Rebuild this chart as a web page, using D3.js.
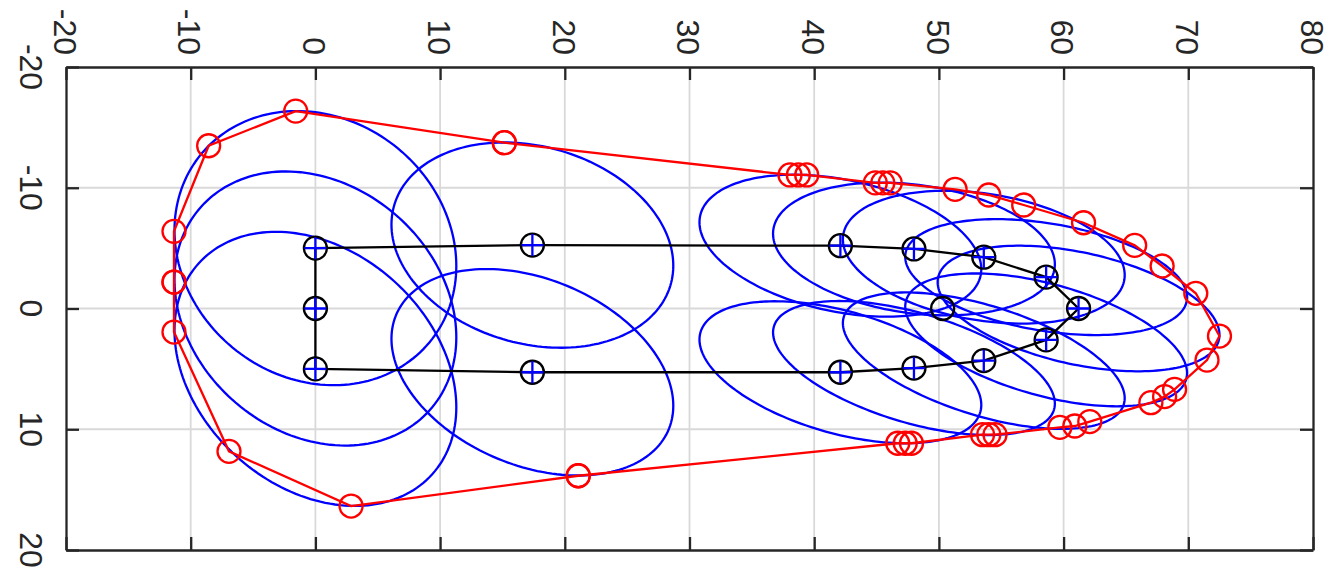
<!DOCTYPE html>
<html>
<head>
<meta charset="utf-8">
<script src="https://cdn.jsdelivr.net/npm/d3@7"></script>
<style>
  body { margin: 0; background: #fff; }
  svg { display: block; }
  .tick-label { font-family: "Liberation Sans", Arial, Helvetica, sans-serif; font-size: 32px; fill: #262626; }
</style>
</head>
<body>
<div class="plot-container"></div>
<script>
"use strict";

// ticks
const xTicks = [-20, -10, 0, 10, 20, 30, 40, 50, 60, 70, 80];
const yTicks = [-20, -10, 0, 10, 20];

// trajectory (closed loop), every node gets a blue plus
const pathX = [0, 0, 0, 17.4, 42.1, 48.0, 53.6, 58.6, 61.2, 58.6, 53.6, 48.0, 42.1, 17.4, 0];
const pathY = [5, 0, -5, -5.25, -5.2, -4.93, -4.25, -2.6, 0, 2.6, 4.32, 4.93, 5.28, 5.28, 5];

// lone black marker
const markX = [50.3];
const markY = [0];

// blue ellipses: centre, half extents, correlation
const ellCx = [0, 0, 0, 17.4, 17.4, 42.1, 42.1, 48.0, 48.0, 53.6, 53.6, 58.6, 58.6, 61.2];
const ellCy = [-5, 0, 5, -5.25, 5.28, -5.2, 5.28, -4.93, 4.93, -4.25, 4.32, -2.6, 2.6, 0];
const ellSx = [11.3, 11.3, 11.3, 11.3, 11.3, 11.3, 11.3, 11.3, 11.3, 11.3, 11.3, 11.3, 11.3, 11.3];
const ellSy = [11.35, 11.35, 11.35, 8.5, 8.55, 5.88, 5.88, 5.5, 5.55, 5.5, 5.65, 4.8, 5.5, 5.2];
const ellRho = [0.13, 0.21, 0.28, 0.2, 0.325, 0.33, 0.46, 0.23, 0.53, 0.27, 0.55, 0.35, 0.5, 0.42];

// red hull points, in drawing order
const hullX = [-1.58, 15.15, 15.15, 38.06, 38.73, 39.4, 44.9, 45.5, 46.1, 51.3, 54.0, 56.8, 61.6, 65.7, 67.9, 70.6,
  72.5, 71.5, 68.9, 68.1, 67.0, 62.1, 60.9, 59.7, 54.5, 54.0, 53.5, 47.8, 47.3, 46.7, 21.08, 21.08, 2.86,
  -6.93, -11.34, -11.34, -11.34, -11.34, -8.56, -1.58];
const hullY = [-16.35, -13.73, -13.73, -11.06, -11.06, -11.06, -10.4, -10.4, -10.4, -9.87, -9.4, -8.57, -7.1, -5.23, -3.52, -1.26,
  2.28, 4.27, 6.7, 7.3, 7.8, 9.37, 9.73, 9.84, 10.45, 10.45, 10.45, 11.16, 11.16, 11.16, 13.85, 13.85, 16.36,
  11.83, 1.95, -2.19, -2.19, -6.39, -13.48, -16.35];

const width = 1326, height = 571;
const x = d3.scaleLinear().domain([-20, 80]).range([66, 1313]);
const y = d3.scaleLinear().domain([-20, 20]).range([67, 550]);
const axisColor = "#262626";
const lw = 2.3;

const svg = d3.select(".plot-container").append("svg")
  .attr("width", width)
  .attr("height", height)
  .style("background", "#fff");

// grid
const grid = svg.append("g").attr("stroke", "#d9d9d9").attr("stroke-width", 1.8);
grid.selectAll("line.gx").data(xTicks.slice(1, -1)).join("line")
  .attr("class", "gx")
  .attr("x1", d => x(d)).attr("x2", d => x(d))
  .attr("y1", y(-20)).attr("y2", y(20));
grid.selectAll("line.gy").data(yTicks.slice(1, -1)).join("line")
  .attr("class", "gy")
  .attr("x1", x(-20)).attr("x2", x(80))
  .attr("y1", d => y(d)).attr("y2", d => y(d));

// ellipses
const ellipses = ellCx.map((cx, i) => ({ cx: cx, cy: ellCy[i], sx: ellSx[i], sy: ellSy[i], rho: ellRho[i] }));
const ts = d3.range(0, 361, 2).map(a => a * Math.PI / 180);
const ellLine = d3.line().x(p => x(p[0])).y(p => y(p[1]));
svg.append("g").selectAll("path").data(ellipses).join("path")
  .attr("fill", "none")
  .attr("stroke", "#0000ff")
  .attr("stroke-width", lw)
  .attr("d", e => ellLine(ts.map(t => [
    e.cx + e.sx * Math.cos(t),
    e.cy + e.sy * (e.rho * Math.cos(t) + Math.sqrt(1 - e.rho * e.rho) * Math.sin(t))
  ])) + "Z");

// trajectory
const pts = pathX.map((v, i) => [v, pathY[i]]);
svg.append("path")
  .attr("fill", "none")
  .attr("stroke", "#000")
  .attr("stroke-width", lw)
  .attr("d", d3.line().x(d => x(d[0])).y(d => y(d[1]))(pts));

const nodes = pts.slice(0, -1);
svg.append("g").selectAll("circle").data(nodes.concat(markX.map((v, i) => [v, markY[i]]))).join("circle")
  .attr("cx", d => x(d[0])).attr("cy", d => y(d[1]))
  .attr("r", 11.5)
  .attr("fill", "none")
  .attr("stroke", "#000")
  .attr("stroke-width", lw);

const plus = svg.append("g").attr("stroke", "#0000ff").attr("stroke-width", lw);
plus.selectAll("path").data(nodes).join("path")
  .attr("d", d => "M" + (x(d[0]) - 11) + "," + y(d[1]) + "H" + (x(d[0]) + 11) +
    "M" + x(d[0]) + "," + (y(d[1]) - 11) + "V" + (y(d[1]) + 11));

// hull
const hull = hullX.map((v, i) => [v, hullY[i]]);
svg.append("path")
  .attr("fill", "none")
  .attr("stroke", "#ff0000")
  .attr("stroke-width", lw)
  .attr("d", d3.line().x(d => x(d[0])).y(d => y(d[1]))(hull));
svg.append("g").selectAll("circle").data(hull.slice(0, -1)).join("circle")
  .attr("cx", d => x(d[0])).attr("cy", d => y(d[1]))
  .attr("r", 11.5)
  .attr("fill", "none")
  .attr("stroke", "#ff0000")
  .attr("stroke-width", lw);

// axes box with inward ticks
function styleAxis(g) {
  g.selectAll("path.domain").attr("stroke", axisColor).attr("stroke-width", 2.3);
  g.selectAll(".tick line").attr("stroke", axisColor).attr("stroke-width", 2.3);
}
svg.append("g").attr("transform", "translate(0," + y(-20) + ")")
  .call(d3.axisTop(x).tickValues(xTicks).tickSizeInner(-13).tickSizeOuter(0).tickFormat(""))
  .call(styleAxis);
svg.append("g").attr("transform", "translate(0," + y(20) + ")")
  .call(d3.axisBottom(x).tickValues(xTicks).tickSizeInner(-13).tickSizeOuter(0).tickFormat(""))
  .call(styleAxis);
svg.append("g").attr("transform", "translate(" + x(-20) + ",0)")
  .call(d3.axisLeft(y).tickValues(yTicks).tickSizeInner(-13).tickSizeOuter(0).tickFormat(""))
  .call(styleAxis);
svg.append("g").attr("transform", "translate(" + x(80) + ",0)")
  .call(d3.axisRight(y).tickValues(yTicks).tickSizeInner(-13).tickSizeOuter(0).tickFormat(""))
  .call(styleAxis);

// rotated tick labels
svg.append("g").selectAll("text").data(xTicks).join("text")
  .attr("class", "tick-label")
  .attr("transform", d => "translate(" + (x(d) - 1) + ",55) rotate(90)")
  .attr("text-anchor", "end")
  .attr("dy", "0.35em")
  .text(d => d);
svg.append("g").selectAll("text").data(yTicks).join("text")
  .attr("class", "tick-label")
  .attr("transform", d => "translate(31.5," + y(d) + ") rotate(90)")
  .attr("text-anchor", "middle")
  .attr("dy", "0.35em")
  .text(d => d);
</script>
</body>
</html>
